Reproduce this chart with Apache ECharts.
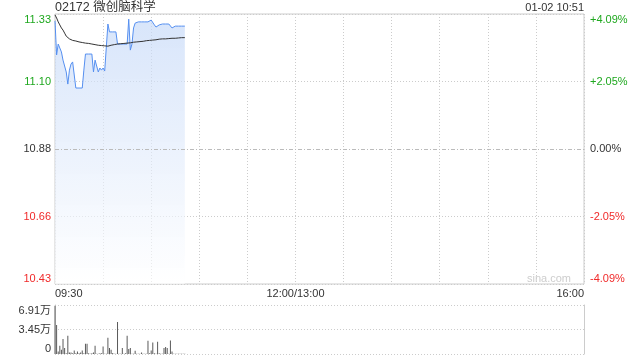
<!DOCTYPE html>
<html><head><meta charset="utf-8">
<script src="https://cdn.jsdelivr.net/npm/echarts@6/dist/echarts.min.js"></script>
<style>html,body{margin:0;padding:0;background:#fff}#c{width:640px;height:360px}</style>
</head><body><div id="c"></div>
<script>
const titleText = '02172 微创脑科学';
const stampText = '01-02 10:51';
const watermark = 'sina.com';
const prevClose = 10.88;
const priceMin = 10.435, priceMax = 11.325, priceStep = 0.2225;
const pctMin = -4.09, pctMax = 4.09, pctStep = 2.045;
const priceTickLabels = ['10.43', '10.66', '10.88', '11.10', '11.33'];
const pctTickLabels = ['-4.09%', '-2.05%', '0.00%', '+2.05%', '+4.09%'];
const volMax = 69100, volStep = 34550;
const volTickLabels = ['0', '3.45万', '6.91万'];
const sessionMinutes = 330;
const timeTickMinutes = [0, 150, 330];
const timeTickLabels = ['09:30', '12:00/13:00', '16:00'];

const price = [
 11.302, 11.190, 11.226, 11.213, 11.200, 11.173, 11.167, 11.134, 11.094, 11.140,
 11.160, 11.167, 11.167, 11.081, 11.081, 11.081, 11.081, 11.081, 11.140, 11.193,
 11.193, 11.193, 11.193, 11.193, 11.134, 11.173, 11.173, 11.134, 11.147, 11.140,
 11.147, 11.137, 11.137, 11.292, 11.266, 11.266, 11.266, 11.266, 11.266, 11.226,
 11.226, 11.226, 11.226, 11.226, 11.226, 11.226, 11.308, 11.206, 11.226, 11.279,
 11.295, 11.299, 11.299, 11.299, 11.299, 11.299, 11.299, 11.299, 11.299, 11.302,
 11.305, 11.299, 11.289, 11.282, 11.282, 11.289, 11.292, 11.292, 11.292, 11.292,
 11.292, 11.292, 11.292, 11.279, 11.282, 11.285, 11.285, 11.285, 11.285, 11.285,
 11.285, 11.285
];
const avgPrice = [
 11.322, 11.312, 11.299, 11.289, 11.279, 11.272, 11.262, 11.252, 11.246, 11.243,
 11.239, 11.238, 11.236, 11.236, 11.234, 11.233, 11.232, 11.231, 11.230, 11.229,
 11.228, 11.228, 11.227, 11.226, 11.225, 11.224, 11.223, 11.222, 11.221, 11.221,
 11.220, 11.220, 11.219, 11.219, 11.220, 11.222, 11.223, 11.224, 11.225, 11.226,
 11.227, 11.227, 11.228, 11.228, 11.229, 11.229, 11.230, 11.230, 11.231, 11.232,
 11.232, 11.233, 11.233, 11.234, 11.235, 11.235, 11.236, 11.237, 11.237, 11.238,
 11.238, 11.239, 11.240, 11.240, 11.241, 11.242, 11.242, 11.243, 11.243, 11.243,
 11.244, 11.244, 11.244, 11.245, 11.245, 11.245, 11.246, 11.246, 11.246, 11.247,
 11.247, 11.247
];
const volume = [
 68000, 41000, 3600, 11600, 6000, 21000, 8400, 1000, 25600, 2200,
 2200, 1000, 5000, 1000, 3600, 1000, 2200, 5000, 1000, 14400,
 14400, 1000, 500, 1000, 2000, 11600, 500, 500, 1000, 1000,
 10700, 500, 500, 22900, 8400, 6000, 1500, 500, 500, 45300,
 500, 500, 8400, 500, 1000, 25600, 7000, 8400, 500, 500,
 4600, 500, 500, 500, 2200, 500, 500, 500, 18600, 1000,
 5000, 16300, 1000, 500, 17200, 1000, 500, 500, 8400, 9800,
 8400, 500, 19100, 3600, 500, 500, 400, 500, 300, 500,
 400, 500
];

const FONT = "'Liberation Sans', Arial, 'Noto Sans CJK SC', sans-serif";
const GREEN = '#1fa81f', RED = '#f02a2a', DARK = '#333333';
const tickColor = i => (i < 2 ? RED : i === 2 ? DARK : GREEN);
const priceIdx = v => Math.round((v - priceMin) / priceStep);
const pctIdx = v => Math.round((v - pctMin) / pctStep);
const gridDot = { color: '#cccccc', type: [1, 2], width: 1 };

const chart = echarts.init(document.getElementById('c'), null, { renderer: 'canvas' });
chart.setOption({
  animation: false,
  textStyle: { fontFamily: FONT },
  grid: [
    { left: 55, top: 14, width: 529, height: 270, show: true, borderColor: '#cccccc', borderWidth: 1, backgroundColor: 'transparent' },
    { left: 55, top: 305, width: 529, height: 49 }
  ],
  xAxis: [
    { type: 'value', gridIndex: 0, min: 0, max: sessionMinutes, interval: 30,
      axisLine: { show: false }, axisTick: { show: false },
      splitLine: { show: true, lineStyle: gridDot },
      axisLabel: { show: true, margin: 4, fontSize: 11, color: DARK, fontFamily: FONT,
        alignMinLabel: 'left', alignMaxLabel: 'right', hideOverlap: false,
        formatter: v => { const k = timeTickMinutes.indexOf(Math.round(v)); return k >= 0 ? timeTickLabels[k] : ''; } } },
    { type: 'value', gridIndex: 1, min: 0, max: sessionMinutes, interval: 30,
      axisLine: { show: false }, axisTick: { show: false }, splitLine: { show: false }, axisLabel: { show: false } }
  ],
  yAxis: [
    { type: 'value', gridIndex: 0, min: priceMin, max: priceMax, interval: priceStep,
      axisLine: { show: false }, axisTick: { show: false },
      splitLine: { show: true, lineStyle: gridDot },
      axisLabel: { margin: 4, fontSize: 11, fontFamily: FONT,
        verticalAlignMinLabel: 'bottom', verticalAlignMaxLabel: 'top',
        formatter: v => priceTickLabels[priceIdx(v)] || '',
        color: (v) => tickColor(priceIdx(Number(v))) } },
    { type: 'value', gridIndex: 0, position: 'right', min: pctMin, max: pctMax, interval: pctStep,
      axisLine: { show: false }, axisTick: { show: false }, splitLine: { show: false },
      axisLabel: { margin: 6, fontSize: 11, fontFamily: FONT,
        verticalAlignMinLabel: 'bottom', verticalAlignMaxLabel: 'top',
        formatter: v => pctTickLabels[pctIdx(v)] || '',
        color: (v) => tickColor(pctIdx(Number(v))) } },
    { type: 'value', gridIndex: 1, min: 0, max: volMax, interval: volStep,
      axisLine: { show: true, lineStyle: { color: '#cccccc' } }, axisTick: { show: false },
      splitLine: { show: true, lineStyle: gridDot },
      axisLabel: { margin: 4, fontSize: 11, color: DARK, fontFamily: FONT,
        verticalAlignMinLabel: 'bottom', verticalAlignMaxLabel: 'top',
        formatter: v => volTickLabels[Math.round(v / volStep)] || '' } },
    { type: 'value', gridIndex: 1, position: 'right', min: 0, max: volMax, interval: volStep,
      axisLine: { show: true, lineStyle: { color: '#cccccc' } }, axisTick: { show: false },
      splitLine: { show: false }, axisLabel: { show: false } }
  ],
  graphic: [
    { type: 'text', left: 55, top: 1, style: { text: titleText, fill: DARK, font: '12.5px ' + FONT } },
    { type: 'text', right: 56, top: 2, style: { text: stampText, fill: DARK, font: '11px ' + FONT } },
    { type: 'text', right: 69, top: 273, z: 1, style: { text: watermark, fill: '#cdcdcd', font: '11px ' + FONT } }
  ],
  series: [
    { type: 'line', xAxisIndex: 0, yAxisIndex: 0, data: price.map((p, i) => [i, p]),
      symbol: 'none', lineStyle: { color: '#558ff0', width: 1 },
      areaStyle: { origin: 'start', color: new echarts.graphic.LinearGradient(0, 0, 0, 1, [
        { offset: 0, color: 'rgba(196,216,248,0.95)' }, { offset: 1, color: 'rgba(255,255,255,0.9)' }]) },
      markLine: { silent: true, symbol: 'none', label: { show: false },
        lineStyle: { color: '#bbbbbb', type: [4, 2, 1, 2], width: 1 },
        data: [{ yAxis: prevClose }] },
      z: 3 },
    { type: 'line', xAxisIndex: 0, yAxisIndex: 0, data: avgPrice.map((p, i) => [i, p]),
      symbol: 'none', lineStyle: { color: '#333333', width: 1 }, z: 4 },
    { type: 'bar', xAxisIndex: 1, yAxisIndex: 2, data: volume.map((v, i) => [i, v]),
      barWidth: 1, itemStyle: { color: '#5a5a5a' } }
  ]
});
</script></body></html>
